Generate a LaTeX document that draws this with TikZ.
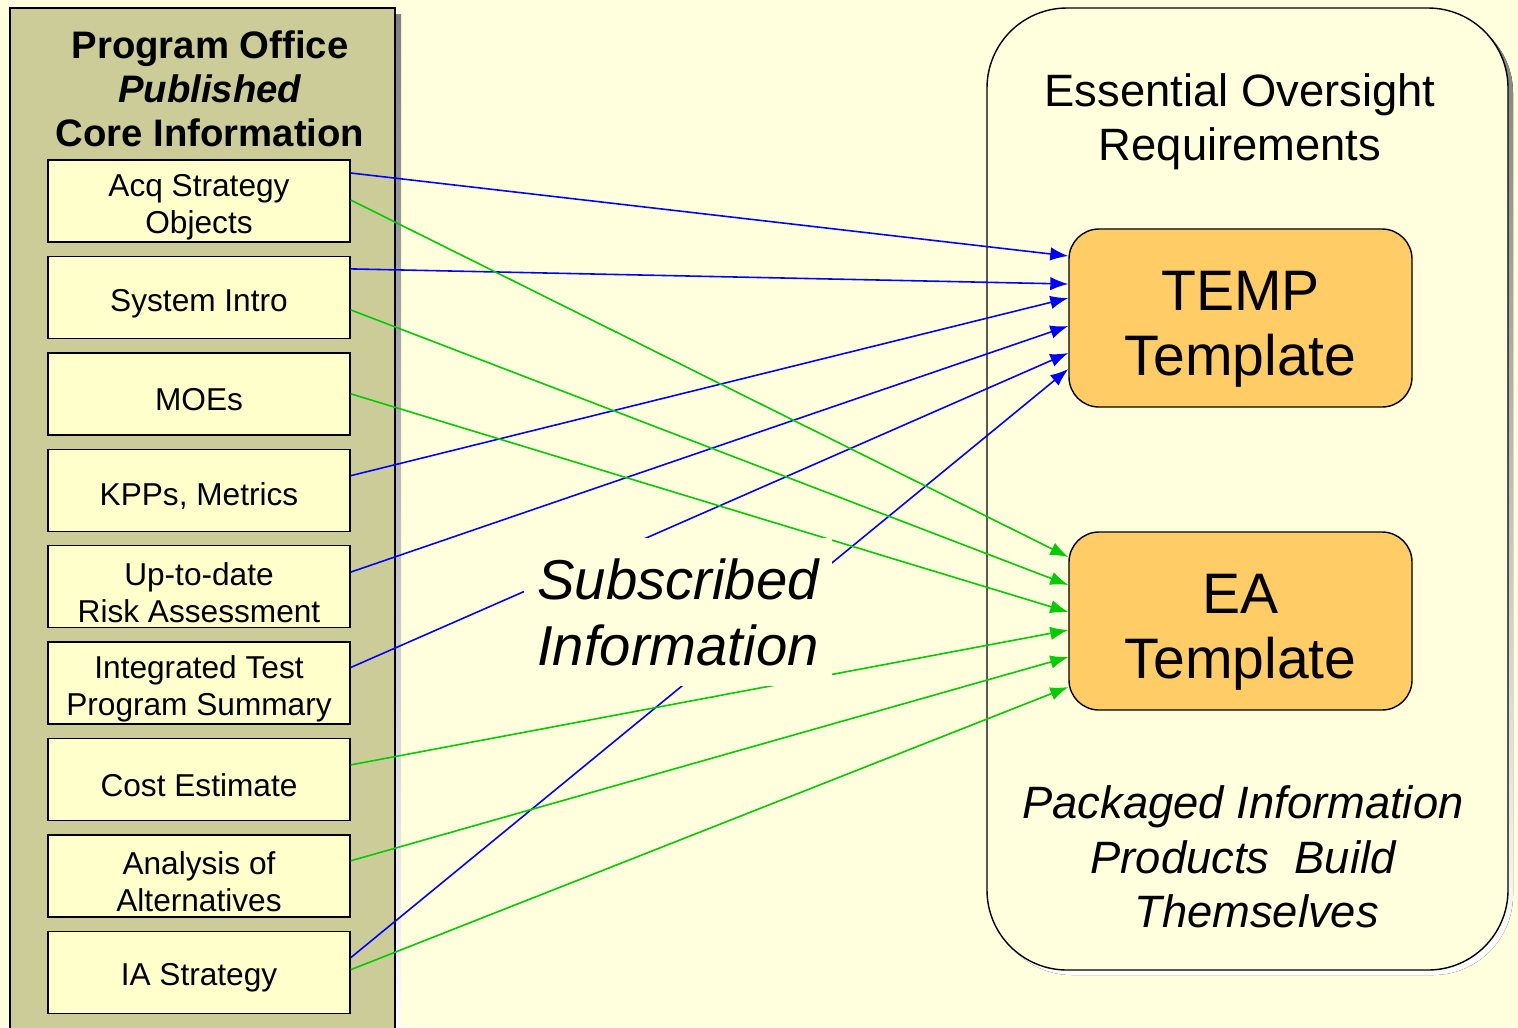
\documentclass[tikz,border=0pt]{standalone}
\usepackage{fontspec}
\setmainfont{Liberation Sans}
\usetikzlibrary{arrows.meta}

\definecolor{paper}{HTML}{FFFFDD}
\definecolor{khaki}{HTML}{CCCC99}
\definecolor{itembg}{HTML}{FFFFCC}
\definecolor{tmplbg}{HTML}{FFCC66}
\definecolor{shade}{HTML}{8C8C8C}
\definecolor{feedgreen}{HTML}{00CC00}

\tikzset{
  item/.style={draw, thick, fill=itembg, minimum width=6.04cm, minimum height=1.64cm},
  itemtext/.style={align=center, yshift=-0.12cm, font=\fontsize{18}{21}\selectfont},
  tmpl/.style={draw, thick, fill=tmplbg, rounded corners=0.6cm, minimum width=6.86cm,
    minimum height=3.56cm},
  tmpltext/.style={align=center, yshift=-0.22cm, font=\fontsize{32.5}{37}\selectfont},
  feed/.style={line width=0.9pt, -{Latex[length=0.36cm,width=0.27cm]}},
}

\begin{document}
\begin{tikzpicture}
  \useasboundingbox[fill=paper] (0,0) rectangle (30.36,-20.54);
  % left panel
  \fill[shade]            (0.32,-0.28) rectangle (8.02,-21);
  \draw[thick,fill=khaki] (0.2,-0.16) rectangle (7.9,-21);
  \node[align=center, font=\bfseries\fontsize{21.8}{25}\selectfont] (core) at (4.2,-1.78)
    {Program Office\\ \textit{Published}\\ Core Information};
  \foreach \i/\txt in {1/{Acq Strategy\\Objects}, 2/System Intro, 3/MOEs, 4/{KPPs, Metrics},
      5/{Up-to-date\\Risk Assessment}, 6/{Integrated Test\\Program Summary}, 7/Cost Estimate,
      8/{Analysis of\\Alternatives}, 9/IA Strategy} {
    \node[item, label={[itemtext]center:\txt}] (a\i) at (3.98,-4.02-1.928*\i+1.928) {};
  }
  % right panel
  \fill[shade,rounded corners=1.6cm]            (19.84,-0.26) rectangle (30.26,-19.5);
  \draw[thick,fill=paper,rounded corners=1.6cm] (19.74,-0.16) rectangle (30.16,-19.4);
  \node[align=center, font=\fontsize{25.8}{31}\selectfont] (eor) at (24.8,-2.44)
    {Essential Oversight\\Requirements};
  \node[tmpl, label={[tmpltext]center:TEMP\\Template}] (temp) at (24.81,-6.36) {};
  \node[tmpl, label={[tmpltext]center:EA\\Template}]   (ea)   at (24.81,-12.42) {};
  \node[align=center, font=\itshape\fontsize{25.8}{31}\selectfont] (pip) at (24.86,-17.14)
    {Packaged Information\\Products\ \ Build\\\hspace*{0.6em}Themselves};
  % subscribed links
  \foreach \s/\a/\b in {1/0.56/1.24, 2/0.57/0.68, 4/0.29/0.4, 5/0.29/-0.16, 6/0.31/-0.7, 9/0.29/-1.02}
    \draw[feed, blue] ([yshift=\a cm]a\s.east) -- ([yshift=\b cm]temp.west);
  \foreach \s/\a/\b in {1/0.02/1.28, 2/-0.25/0.72, 3/0/0.18, 7/0.29/-0.18, 8/0.3/-0.72, 9/0.05/-1.32}
    \draw[feed, feedgreen] ([yshift=\a cm]a\s.east) -- ([yshift=\b cm]ea.west);
  \node[fill=paper, minimum width=6.16cm, minimum height=2.95cm, align=left,
    font=\itshape\fontsize{32}{37.5}\selectfont] (sub) at (13.56,-12.24)
    {Subscribed\\Information};
\end{tikzpicture}
\end{document}
